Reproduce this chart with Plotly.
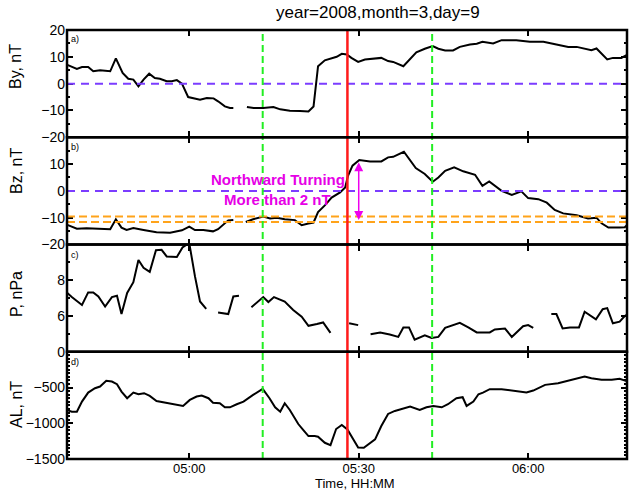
import plotly.graph_objects as go
from plotly.subplots import make_subplots
from datetime import datetime, timedelta

# ---------------- data (minutes relative to 05:00 UT, 2008-03-09) ----------------
by_min = [-21.7, -19.9, -19.0, -17.9, -17.0, -15.8, -14.0, -13.0, -11.8, -10.8, -9.9, -9.0, -8.1,
          -7.1, -6.1, -5.2, -4.0, -3.1, -2.2, -1.3, -0.2, 0.7, 1.9, 3.1, 4.3, 5.1, 6.3, 7.2, 7.8,
          9.0, 10.2, 11.4, 13.1, 14.9, 16.1, 17.8, 19.6, 21.1, 22.0, 22.8, 24.0, 25.2, 26.1, 27.0,
          27.9, 28.7, 29.9, 31.1, 32.6, 34.0, 35.2, 36.1, 37.9, 39.1, 40.2, 41.7, 43.1, 44.1, 45.3,
          46.7, 47.9, 49.7, 50.9, 51.9, 53.8, 55.3, 57.9, 60.3, 62.7, 65.0, 67.1, 68.6, 70.3, 71.2,
          72.1, 73.0, 74.0, 75.0, 76.5, 77.7]
by_val = [7.1, 5.5, 6.2, 6.2, 4.6, 5.0, 4.6, 9.4, 4.0, 1.8, 1.5, -1.0, 1.5,
          3.7, 2.1, 1.8, 0.9, 0.9, 1.3, 0.0, -5.0, -5.4, -6.0, -5.4, -5.5, -6.6, -8.5, -9.1, -9.1,
          None, -8.7, -9.1, -9.1, -8.7, -9.6, -10.1, -10.2, -10.4, -8.5, 6.5, 8.7, 9.6, 10.0, 11.1,
          10.9, 9.6, 8.1, 9.0, 9.2, 9.6, 8.4, 8.1, 6.5, 9.2, 11.7, 13.0, 14.0, 13.0, 12.4,
          12.4, 13.7, 14.6, 14.9, 15.6, 15.0, 16.2, 16.2, 15.6, 15.6, 14.6, 13.7, 13.7, 13.0, 12.5,
          13.1, 11.1, 9.0, 9.6, 9.6, 10.9]

bz_min = [-21.8, -20.8, -19.9, -18.2, -16.4, -14.0, -13.0, -12.0, -11.1, -9.9, -8.1, -5.8, -3.4,
          -1.3, 0.0, 1.0, 2.5, 4.2, 5.1, 6.0, 6.9, 7.8, 9.0, 10.0, 11.3, 13.1, 14.3, 15.5, 16.9,
          18.7, 19.9, 21.1, 22.0, 22.8, 24.0, 25.2, 26.7, 27.6, 28.1, 28.9, 30.1, 32.0, 34.0, 35.2,
          36.1, 38.0, 39.1, 40.1, 41.7, 43.1, 44.1, 45.3, 46.9, 48.5, 50.6, 51.9, 53.1, 55.3, 57.1,
          58.8, 60.0, 61.8, 63.3, 64.7, 66.2, 68.6, 70.6, 72.1, 73.0, 74.2, 76.2, 77.1, 77.9]
bz_val = [-12.5, -13.3, -14.1, -13.9, -14.1, -14.3, -10.6, -13.7, -14.6, -13.9, -14.6, -15.4, -15.6,
          -14.7, -13.3, -14.6, -14.6, -15.1, -14.3, -12.5, -11.0, -10.9, None, -11.6, -10.6, -9.6, -10.3, -10.0, -10.6,
          -10.9, -12.8, -12.2, -11.8, -7.9, -5.4, -2.5, -0.6, 1.3, 5.6, 9.4, 11.5, 11.0, 11.0, 12.5,
          12.7, 14.6, 11.6, 8.5, 6.3, 3.4, 5.0, 7.5, 8.8, 7.3, 6.0, 1.9, 3.5, 0.0, -1.5,
          -0.2, -2.7, -3.1, -4.4, -7.1, -8.4, -9.1, -10.3, -10.0, -12.1, -13.7, -13.7, -13.6, -12.0]

p_min = [-21.7, -20.8, -19.0, -17.9, -17.0, -16.1, -14.9, -13.7, -12.8, -12.0, -11.0, -9.9, -9.0,
         -8.1, -7.0, -5.9, -4.9, -4.0, -2.2, -1.2, -0.35, 0.1, 1.0, 1.9, 3.0, 4.0, 5.1, 6.9, 7.8,
         8.8, 10.0, 11.0, 13.1, 14.0, 15.0, 16.9, 18.4, 19.9, 21.1, 22.6, 23.7, 25.0, 26.5, 28.3,
         29.9, 31.0, 32.1, 33.8, 35.5, 37.0, 37.9, 38.9, 39.9, 41.7, 42.9, 44.1, 45.3, 47.9, 49.4,
         50.9, 53.2, 54.1, 55.9, 57.1, 59.1, 60.0, 60.9, 62.5, 64.1, 65.0, 66.1, 67.4, 69.0, 70.0,
         72.0, 73.2, 74.0, 75.0, 76.2, 77.1, 77.9]
p_val = [7.32, 7.06, 6.62, 7.32, 7.32, 7.09, 6.53, 7.06, 7.13, 6.11, 7.29, 7.89, 9.13,
         8.70, 8.47, 9.68, 9.70, 9.33, 9.30, 9.83, 10.02, 9.89, 8.23, 6.81, 6.40, None, 6.19, 6.11, 7.09,
         7.13, None, 6.49, 7.06, 6.78, 7.06, 6.81, 6.34, 5.96, 5.45, 5.55, 5.64, 5.06, None, 5.59,
         5.49, None, 4.98, 5.08, 4.96, 4.83, 5.36, 5.36, 4.68, 4.92, 4.77, 4.83, 5.34, 5.62, 5.36,
         5.08, 5.08, 5.25, 5.30, 4.83, 5.43, 5.49, 5.34, None, 6.11, 6.11, 5.30, 5.36, 5.36, 6.24,
         5.81, 6.38, 6.44, 5.59, 5.68, 6.00, 6.15]

al_min = [-21.7, -20.8, -19.9, -19.0, -17.9, -16.7, -15.8, -14.7, -13.7, -12.8, -12.0, -11.0, -9.9,
          -9.0, -8.0, -7.0, -5.8, -4.0, -2.2, -1.1, 0.1, 1.3, 2.2, 3.4, 4.2, 5.4, 6.3, 7.2, 8.4,
          9.6, 11.3, 13.0, 14.2, 15.2, 16.1, 16.9, 17.8, 19.3, 20.2, 21.1, 22.2, 22.8, 24.0, 25.0,
          26.0, 27.0, 28.0, 28.9, 29.9, 30.9, 32.9, 34.0, 35.2, 36.4, 37.6, 39.1, 40.8, 42.0, 43.2,
          44.7, 45.8, 47.3, 48.4, 49.1, 50.3, 51.2, 52.0, 53.2, 55.3, 57.3, 59.7, 60.9, 63.0, 65.3,
          67.1, 68.6, 70.0, 71.2, 73.0, 74.8, 76.2, 77.7]
al_val = [-814, -838, -838, -697, -571, -510, -487, -407, -417, -454, -557, -650, -571,
          -594, -580, -618, -688, -712, -734, -758, -674, -627, -613, -650, -712, -720, -777, -777, -734,
          -697, -604, -520, -650, -777, -838, -720, -814, -1011, -1095, -1179, -1179, -1189, -1273, -1306,
          -1081, -1025, -1086, -1198, -1338, -1343, -1226, -1039, -870, -828, -800, -768, -814, -777, -758,
          -777, -734, -650, -636, -758, -697, -594, -571, -524, -524, -543, -571, -543, -463, -440,
          -407, -379, -346, -370, -393, -393, -379, -417]

panel_titles = ["By, nT", "Bz, nT", "P, nPa", "AL, nT"]
panel_letters = ["a)", "b)", "c)", "d)"]
y_ranges = [[-20, 20], [-20, 20], [4, 10], [-1500, 0]]
y_tickvals = [[-20, -10, 0, 10, 20], [-20, -10, 0, 10], [6, 8], [-1500, -1000, -500, 0]]
y_minor = [5, 5, 1, 50]
x_ticks_min = [0, 30, 60]
event_min = 28          # red line 05:28
window_min = [13, 43]   # green lines 05:13, 05:43
bz_thresholds = [-9.6, -11.6]
arrow_min = 30
arrow_bz = [11.2, -10.9]
title_text = "year=2008,month=3,day=9"

BASE = datetime(2008, 3, 9, 5, 0)


def tt(mins):
    return [BASE + timedelta(minutes=m) for m in mins]


# ---------------- figure ----------------
W, H = 630, 492
ML, MR, MT, MB = 67, 3, 30, 33
PW, PH = W - ML - MR, H - MT - MB


def px(x):
    return (x - ML) / PW


def py(y):
    return (H - MB - y) / PH


FONT = "Liberation Sans, Arial, Helvetica, sans-serif"

fig = make_subplots(rows=4, cols=1, shared_xaxes=True, vertical_spacing=0)

series = [(by_min, by_val), (bz_min, bz_val), (p_min, p_val), (al_min, al_val)]
for i, (m, v) in enumerate(series):
    fig.add_trace(go.Scatter(x=tt(m), y=v, mode="lines", connectgaps=False,
                             line=dict(color="black", width=2), showlegend=False),
                  row=i + 1, col=1)

xr = [BASE + timedelta(minutes=-21.65), BASE + timedelta(minutes=77.5)]
for i in range(4):
    fig.update_xaxes(row=i + 1, col=1, range=xr, tickvals=tt(x_ticks_min),
                     tickformat="%H:%M", ticks="inside", ticklen=6, tickwidth=2,
                     tickcolor="black", showline=False, mirror="ticks",
                     showgrid=False, zeroline=False,
                     showticklabels=(i == 3), ticklabelstandoff=0,
                     tickfont=dict(family=FONT, size=13, color="black"))
    fig.update_yaxes(row=i + 1, col=1, range=y_ranges[i], tickvals=y_tickvals[i],
                     ticks="inside", ticklen=6, tickwidth=2, tickcolor="black",
                     minor=dict(ticks="inside", ticklen=3, tickwidth=1.5, dtick=y_minor[i],
                                tickcolor="black", showgrid=False),
                     showline=False, mirror="ticks",
                     showgrid=False, zeroline=False, ticklabelstandoff=1,
                     tickfont=dict(family=FONT, size=14, color="black"))

# horizontal reference lines
for r in (1, 2):
    fig.add_shape(type="line", xref=f"x{'' if r == 1 else r} domain", x0=0, x1=1,
                  yref=f"y{'' if r == 1 else r}", y0=0, y1=0,
                  line=dict(color="#7b3cff", width=2, dash="8px,6px"))
for th in bz_thresholds:
    fig.add_shape(type="line", xref="x2 domain", x0=0, x1=1, yref="y2", y0=th, y1=th,
                  line=dict(color="#ffa31a", width=2, dash="8px,4px"))

# vertical lines across all panels
for wm in window_min:
    t = BASE + timedelta(minutes=wm)
    fig.add_shape(type="line", xref="x", x0=t, x1=t, yref="paper", y0=0, y1=1,
                  line=dict(color="#22ee22", width=2, dash="7px,4px"))
te = BASE + timedelta(minutes=event_min)
fig.add_shape(type="line", xref="x", x0=te, x1=te, yref="paper", y0=0, y1=1,
              line=dict(color="#ff1a1a", width=2.5))

# panel frames
for r in range(1, 5):
    s = "" if r == 1 else str(r)
    fig.add_shape(type="rect", xref=f"x{s} domain", yref=f"y{s} domain",
                  x0=0, x1=1, y0=0, y1=1, line=dict(color="black", width=2.5),
                  fillcolor="rgba(0,0,0,0)", layer="above")

# magenta double arrow
ta = BASE + timedelta(minutes=arrow_min)
fig.add_annotation(x=ta, y=arrow_bz[1], ax=ta, ay=arrow_bz[0], xref="x2", yref="y2",
                   axref="x2", ayref="y2", text="", showarrow=True, arrowhead=2,
                   arrowside="end+start", arrowsize=1.2, arrowwidth=1.5, arrowcolor="#ee00ee")

fig.add_annotation(x=px(278), y=py(179), xref="paper", yref="paper",
                   xanchor="center", yanchor="middle",
                   text="<b>Northward Turning</b>", showarrow=False,
                   font=dict(family=FONT, size=15, color="#e600e6"))
fig.add_annotation(x=px(277), y=py(199), xref="paper", yref="paper",
                   xanchor="center", yanchor="middle",
                   text="<b>More than 2 nT</b>", showarrow=False,
                   font=dict(family=FONT, size=15, color="#e600e6"))

# panel titles and letters
y_title_centers = [67, 171, 294, 405]
letter_y = [39, 147, 255, 362]
for i in range(4):
    fig.add_annotation(x=px(16), y=py(y_title_centers[i]), xref="paper", yref="paper",
                       xanchor="center", yanchor="middle",
                       text=panel_titles[i], textangle=-90, showarrow=False,
                       font=dict(family=FONT, size=16, color="black"))
    fig.add_annotation(x=px(69), y=py(letter_y[i]), xref="paper", yref="paper",
                       xanchor="left", yanchor="middle", text=panel_letters[i], showarrow=False,
                       font=dict(family=FONT, size=9, color="black"))

fig.add_annotation(x=px(378), y=py(13), xref="paper", yref="paper", text=title_text,
                   xanchor="center", yanchor="middle",
                   showarrow=False, font=dict(family=FONT, size=17, color="black"))
fig.add_annotation(x=px(355), y=py(484), xref="paper", yref="paper", text="Time, HH:MM",
                   xanchor="center", yanchor="middle",
                   showarrow=False, font=dict(family=FONT, size=13, color="black"))

fig.update_layout(width=W, height=H, margin=dict(l=ML, r=MR, t=MT, b=MB),
                  paper_bgcolor="white", plot_bgcolor="white", showlegend=False)

fig.write_html("out.html")
